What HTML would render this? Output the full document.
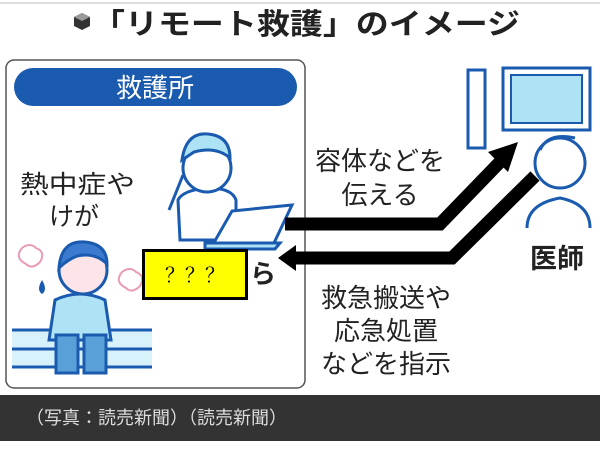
<!DOCTYPE html>
<html><head><meta charset="utf-8"><style>
body{margin:0;width:600px;height:463px;background:#fff;overflow:hidden;font-family:"Liberation Sans","Noto Sans CJK JP",sans-serif}
</style></head><body>
<svg width="600" height="463" viewBox="0 0 600 463" xmlns="http://www.w3.org/2000/svg" font-family="Liberation Sans, Noto Sans CJK JP, sans-serif">
<line x1="0" y1="3" x2="600" y2="3" stroke="#ddd" stroke-width="2"/>
<path d="M74 17 l8 -4 l8 4 v9 l-8 4 l-8 -4z" fill="#333"/><path d="M74 17 l8 4 l8 -4 l-8 -4z" fill="#999"/>
<text x="92" y="34" font-size="29" font-weight="bold" fill="#222" textLength="428" lengthAdjust="spacingAndGlyphs">「リモート救護」のイメージ</text>
<rect x="6" y="60" width="299" height="328" rx="8" fill="#fff" stroke="#555" stroke-width="1.5"/>
<rect x="14" y="68" width="283" height="38" rx="19" fill="#1a5bb0"/>
<text x="155" y="97" font-size="26" fill="#fff" text-anchor="middle">救護所</text>
<text x="20" y="193" font-size="25" fill="#222" textLength="115" lengthAdjust="spacingAndGlyphs">熱中症や</text>
<text x="49" y="225" font-size="25" fill="#222">けが</text>
<g stroke="#1a5bb0" stroke-width="3" fill="#aee3f5">
<rect x="12" y="330" width="140" height="37" fill="#d8f2fb" stroke="none"/>
<line x1="12" y1="330" x2="152" y2="330"/><line x1="12" y1="349" x2="152" y2="349"/><line x1="12" y1="367" x2="152" y2="367"/>
<path d="M55 300 q25 -12 50 0 l6 40 h-62z"/>
<rect x="56" y="335" width="22" height="38" fill="#5aa0d8"/><rect x="84" y="335" width="22" height="38" fill="#5aa0d8"/>
<circle cx="83" cy="270" r="24" fill="#fce4e8"/>
<path d="M59 268 q2 -28 26 -26 q22 2 22 22 q-12 -12 -30 -8 q-10 4 -18 12z" fill="#3a7bd0"/>
</g>
<path d="M22 248 q-8 10 4 16 q6 6 14 -2 q6 -10 -4 -14 q-6 -6 -14 0z M122 272 q-8 10 4 16 q6 6 14 -2 q6 -10 -4 -14 q-6 -6 -14 0z" fill="none" stroke="#e89ab8" stroke-width="2"/>
<path d="M42 280 q-6 10 0 14 q6 -4 0 -14z" fill="#1a5bb0"/>
<g stroke="#1a5bb0" stroke-width="3" fill="#fff">
<path d="M178 200 q5 -10 30 -12 q24 0 28 12 v40 h-56z"/>
<circle cx="207" cy="168" r="24" fill="#fff"/>
<path d="M182 160 q4 -28 26 -26 q22 2 22 24 q-14 -12 -36 -6z" fill="#aee3f5"/>
<path d="M183 175 q-8 20 -14 35" fill="none"/>
<path d="M212 246 l20 -35 l60 -6 l-18 38z" fill="#fff"/>
<path d="M205 243 h75 l-5 6 h-70z" fill="#aee3f5"/>
</g>
<path d="M285 224 H440 L500 162" fill="none" stroke="#000" stroke-width="13"/>
<path d="M518 142 L488 152 L508 172z" fill="#000"/>
<path d="M293 258 H452 L535 176" fill="none" stroke="#000" stroke-width="13"/>
<path d="M296 245 L278 258 L296 271z" fill="#000"/>
<text x="380" y="170" font-size="26" fill="#222" text-anchor="middle">容体などを</text>
<text x="380" y="204" font-size="26" fill="#222" text-anchor="middle">伝える</text>
<text x="386" y="307" font-size="26" fill="#222" text-anchor="middle">救急搬送や</text>
<text x="386" y="340" font-size="26" fill="#222" text-anchor="middle">応急処置</text>
<text x="386" y="373" font-size="26" fill="#222" text-anchor="middle">などを指示</text>
<g stroke="#1a5bb0" stroke-width="3">
<rect x="468" y="70" width="17" height="78" fill="#fff"/>
<rect x="503" y="68" width="87" height="62" fill="#fff"/>
<rect x="511" y="75" width="71" height="48" fill="#aee3f5" stroke-width="2"/>
<path d="M527 228 q0 -24 33 -30 q30 6 30 30" fill="#fff"/>
<circle cx="560" cy="163" r="25" fill="#fff"/>
<path d="M540 150 q8 -18 35 -12" fill="none"/>
</g>
<text x="557" y="268" font-size="27" font-weight="bold" fill="#222" text-anchor="middle">医師</text>
<rect x="143.5" y="250.5" width="103" height="48" fill="#ffff00" stroke="#000" stroke-width="3"/>
<text x="195" y="282" font-size="20" fill="#000" text-anchor="middle" font-family="Liberation Serif, Noto Serif CJK SC, serif">？？？</text>
<text x="250" y="283" font-size="26" font-weight="bold" fill="#222">ら</text>
<rect x="0" y="395" width="600" height="46" fill="#333"/>
<text x="26" y="424" font-size="18" fill="#ddd">（写真：読売新聞）（読売新聞）</text>
</svg>
</body></html>
